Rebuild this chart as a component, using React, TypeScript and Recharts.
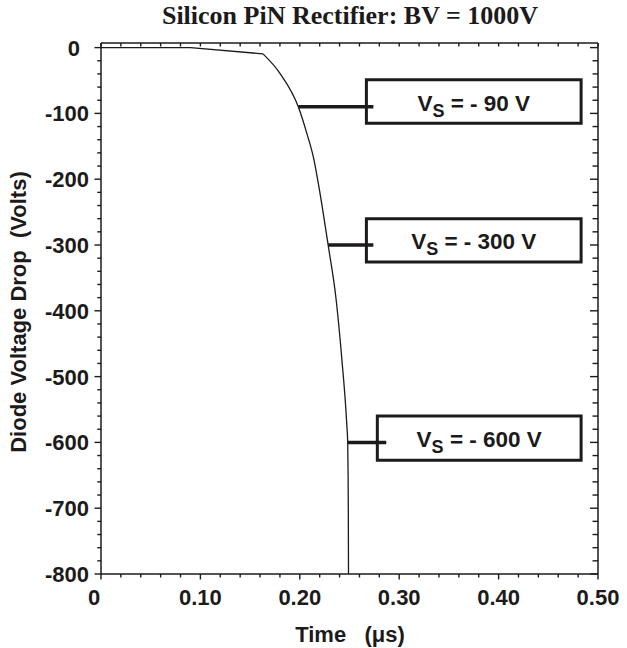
import React from 'react';
import { LineChart, Line, XAxis, YAxis, ReferenceArea, ReferenceLine, Label } from 'recharts';

// reverse recovery voltage transient of the rectifier
const TIME_US = [0, 0.09, 0.163, 0.18, 0.1985, 0.207, 0.2136, 0.2203, 0.2285, 0.2364, 0.2421, 0.2472, 0.2482, 0.2486, 0.2488, 0.249];
const DROP_V = [0, 0, -9.5, -39, -90, -130, -166, -221, -300, -381, -470, -571, -600, -650, -700, -800];
// index of the knee where the slow ramp turns into the fast fall
const KNEE = 2;

const X_MAJOR = [0, 0.1, 0.2, 0.3, 0.4, 0.5];
const X_MAJOR_LABELS = ['0', '0.10', '0.20', '0.30', '0.40', '0.50'];
const X_MINOR = [0.02, 0.04, 0.06, 0.08, 0.12, 0.14, 0.16, 0.18, 0.22, 0.24, 0.26, 0.28, 0.32, 0.34, 0.36, 0.38, 0.42, 0.44, 0.46, 0.48];

const Y_MAJOR = [0, -100, -200, -300, -400, -500, -600, -700, -800];
const Y_MAJOR_LABELS = ['0', '-100', '-200', '-300', '-400', '-500', '-600', '-700', '-800'];
const Y_MINOR = [
  -20, -40, -60, -80, -120, -140, -160, -180, -220, -240, -260, -280, -320, -340, -360, -380,
  -420, -440, -460, -480, -520, -540, -560, -580, -620, -640, -660, -680, -720, -740, -760, -780,
];

// supply voltage call-outs
const SUPPLY_V = [-90, -300, -600];
const SUPPLY_TEXT = [' = - 90 V', ' = - 300 V', ' = - 600 V'];
const BOX_FROM = [0.267, 0.267, 0.278];
const BOX_TO = [0.483, 0.483, 0.483];
const BOX_TOP = [-49, -260, -560];
const BOX_BOTTOM = [-115, -326, -627];
const LEAD_END = [0.274, 0.274, 0.287];

const curve = TIME_US.map((t, i) => ({ t, v: DROP_V[i] }));
const ramp = curve.slice(0, KNEE + 1);
const fall = curve.slice(KNEE);

const X_TICKS = [...X_MAJOR, ...X_MINOR].sort((a, b) => a - b);
const Y_TICKS = [...Y_MAJOR, ...Y_MINOR].sort((a, b) => b - a);

const INK = '#1c1a1b';
const SANS = '"Liberation Sans", Arial, Helvetica, sans-serif';
const SERIF = '"Liberation Serif", "Times New Roman", serif';

const W = 627;
const H = 648;

// time where the transient reaches a given voltage
const crossing = (v: number) => {
  for (let i = 1; i < curve.length; i++) {
    const a = curve[i - 1];
    const b = curve[i];
    if (a.v >= v && b.v <= v) {
      if (a.v === b.v) return a.t;
      return a.t + ((b.t - a.t) * (a.v - v)) / (a.v - b.v);
    }
  }
  return 0;
};

const majorIndex = (list: number[], value: number) =>
  list.findIndex((m) => Math.abs(m - value) < 1e-6);

const BottomTick = (props: any) => {
  const { x, y, payload } = props;
  const idx = majorIndex(X_MAJOR, payload.value);
  const major = idx >= 0;
  return (
    <g>
      <line x1={x} y1={y} x2={x} y2={y + (major ? 5.5 : 3.5)} stroke={INK} strokeWidth={1.4} />
      {major && (
        <text
          x={idx === 0 ? x - 7 : x}
          y={y + 31}
          textAnchor="middle"
          fontFamily={SANS}
          fontWeight="bold"
          fontSize={22}
          fill={INK}
        >
          {X_MAJOR_LABELS[idx]}
        </text>
      )}
    </g>
  );
};

const TopTick = (props: any) => {
  const { x, y } = props;
  return <line x1={x} y1={y} x2={x} y2={y + 3.5} stroke={INK} strokeWidth={1.4} />;
};

const LeftTick = (props: any) => {
  const { x, y, payload } = props;
  const idx = majorIndex(Y_MAJOR, payload.value);
  const major = idx >= 0;
  return (
    <g>
      <line x1={x} y1={y} x2={x - (major ? 6.5 : 3.7)} y2={y} stroke={INK} strokeWidth={1.4} />
      {major && (
        <text
          x={idx === 0 ? x - 21 : x - 12}
          y={y + 8}
          textAnchor="end"
          fontFamily={SANS}
          fontWeight="bold"
          fontSize={22}
          fill={INK}
        >
          {Y_MAJOR_LABELS[idx]}
        </text>
      )}
    </g>
  );
};

const RightTick = (props: any) => {
  const { x, y, payload } = props;
  const major = majorIndex(Y_MAJOR, payload.value) >= 0;
  return <line x1={x} y1={y} x2={x - (major ? 8 : 5.5)} y2={y} stroke={INK} strokeWidth={1.4} />;
};

const SupplyText = ({ viewBox, text }: any) => {
  if (!viewBox) return null;
  const cx = viewBox.x + viewBox.width / 2;
  const cy = viewBox.y + viewBox.height / 2;
  return (
    <text
      x={cx}
      y={cy + 9}
      textAnchor="middle"
      fontFamily={SANS}
      fontWeight="bold"
      fontSize={22.5}
      fill={INK}
      style={{ whiteSpace: 'pre' }}
    >
      <tspan>V</tspan>
      <tspan fontSize={18} dy={6}>S</tspan>
      <tspan dy={-6}>{text}</tspan>
    </text>
  );
};

const frame = { stroke: INK, strokeWidth: 1.5 };

export default function App() {
  return (
    <div style={{ position: 'absolute', left: 0, top: 0, width: W, height: H, background: '#fff' }}>
      <LineChart width={W} height={H} data={curve} margin={{ top: 0, right: 0, bottom: 0, left: 0 }}>
        <XAxis
          dataKey="t"
          type="number"
          domain={[0, 0.5]}
          allowDataOverflow
          ticks={X_TICKS}
          interval={0}
          height={74}
          axisLine={frame}
          tickLine={false}
          tickSize={0}
          tickMargin={0}
          tick={BottomTick}
        >
          <Label
            content={() => (
              <text
                x={350}
                y={642}
                textAnchor="middle"
                fontFamily={SANS}
                fontWeight="bold"
                fontSize={22}
                fill={INK}
                style={{ whiteSpace: 'pre' }}
              >
                {'Time   (\u03bcs)'}
              </text>
            )}
          />
        </XAxis>
        <XAxis
          xAxisId="top"
          orientation="top"
          dataKey="t"
          type="number"
          domain={[0, 0.5]}
          allowDataOverflow
          ticks={X_TICKS}
          interval={0}
          height={43}
          axisLine={frame}
          tickLine={false}
          tickSize={0}
          tickMargin={0}
          tick={TopTick}
        >
          <Label
            content={() => (
              <text
                x={350}
                y={24}
                textAnchor="middle"
                fontFamily={SERIF}
                fontWeight="bold"
                fontSize={26}
                fill={INK}
              >
                Silicon PiN Rectifier: BV = 1000V
              </text>
            )}
          />
        </XAxis>
        <YAxis
          dataKey="v"
          type="number"
          domain={[-800, 7]}
          allowDataOverflow
          ticks={Y_TICKS}
          interval={0}
          width={101}
          axisLine={frame}
          tickLine={false}
          tickSize={0}
          tickMargin={0}
          tick={LeftTick}
        >
          <Label
            content={() => (
              <text
                x={26}
                y={312}
                transform="rotate(-90 26 312)"
                textAnchor="middle"
                fontFamily={SANS}
                fontWeight="bold"
                fontSize={22}
                fill={INK}
                style={{ whiteSpace: 'pre' }}
              >
                {'Diode Voltage Drop  (Volts)'}
              </text>
            )}
          />
        </YAxis>
        <YAxis
          yAxisId="right"
          orientation="right"
          dataKey="v"
          type="number"
          domain={[-800, 7]}
          allowDataOverflow
          ticks={Y_TICKS}
          interval={0}
          width={29}
          axisLine={frame}
          tickLine={false}
          tickSize={0}
          tickMargin={0}
          tick={RightTick}
        />

        {SUPPLY_V.map((v, i) => (
          <ReferenceArea
            key={`box-${i}`}
            x1={BOX_FROM[i]}
            x2={BOX_TO[i]}
            y1={BOX_TOP[i]}
            y2={BOX_BOTTOM[i]}
            fill="#fff"
            fillOpacity={1}
            stroke={INK}
            strokeWidth={3}
            ifOverflow="visible"
            label={(p: any) => <SupplyText viewBox={p.viewBox} text={SUPPLY_TEXT[i]} />}
          />
        ))}
        {SUPPLY_V.map((v, i) => (
          <ReferenceLine
            key={`lead-${i}`}
            segment={[
              { x: crossing(v), y: v },
              { x: LEAD_END[i], y: v },
            ]}
            stroke={INK}
            strokeWidth={3.5}
            ifOverflow="visible"
          />
        ))}

        <Line
          data={ramp}
          type="linear"
          dataKey="v"
          stroke={INK}
          strokeWidth={1.3}
          dot={false}
          activeDot={false}
          isAnimationActive={false}
        />
        <Line
          data={fall}
          type="monotone"
          dataKey="v"
          stroke={INK}
          strokeWidth={1.3}
          dot={false}
          activeDot={false}
          isAnimationActive={false}
        />
      </LineChart>
    </div>
  );
}
